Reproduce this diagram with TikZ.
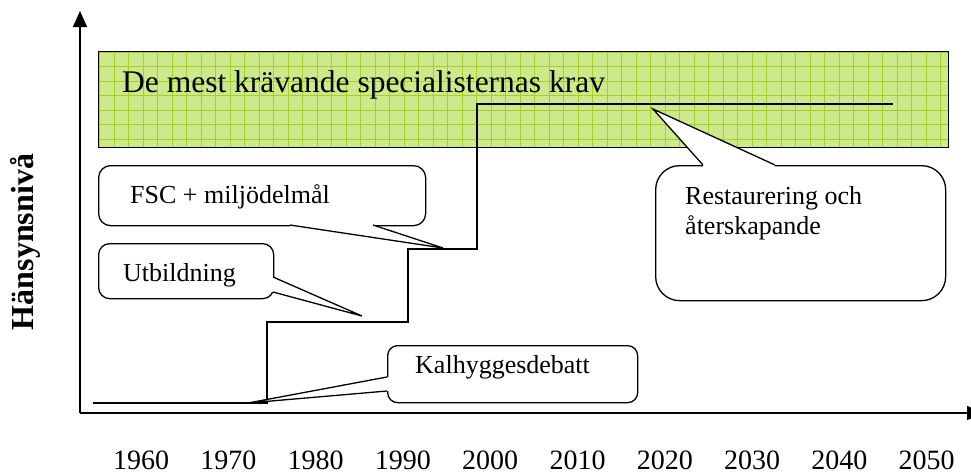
\documentclass[tikz,border=0pt]{standalone}
\usepackage{fontspec}
\setmainfont{Liberation Serif}
\usetikzlibrary{arrows.meta,calc}
\definecolor{gfill}{RGB}{206,232,140}
\definecolor{gline}{RGB}{164,208,40}
\newcommand{\calloutptr}[3]{%
  \fill[white] #1 -- #2 -- #3 -- cycle;
  \fill[white] ($#1!1.6pt!90:#3$) -- ($#3!1.6pt!-90:#1$) -- ($#3!1.6pt!90:#1$) -- ($#1!1.6pt!-90:#3$) -- cycle;
  \draw[callline] #1 -- #2 -- #3;
}
\begin{document}
\begin{tikzpicture}[x=1pt,y=-1pt,
  axisline/.style={line width=1.6pt,-{Triangle[length=16pt,width=14pt]}},
  stepline/.style={line width=1.4pt},
  callline/.style={line width=1.3pt,line join=miter},
  callbox/.style={draw,fill=white,line width=1.3pt,inner sep=0pt,anchor=north west},
  ctext/.style={inner sep=0pt,anchor=base west,font=\fontsize{26}{30}\selectfont},
  yeartext/.style={inner sep=0pt,anchor=base,font=\fontsize{28}{32}\selectfont}]
\useasboundingbox (0,0) rectangle (971,474);

% green band
\fill[gfill] (98,51) rectangle (948,147);
\begin{scope}
  \clip (98,51) rectangle (948,147);
  \foreach \i in {0,...,59} \draw[gline,line width=0.9pt] ({99.5+14.5*\i},51) -- ++(0,96);
  \foreach \j in {0,...,6} \draw[gline,line width=0.9pt] (98,{52+14.5*\j}) -- (948,{52+14.5*\j});
\end{scope}
\node[draw,line width=1.4pt,inner sep=0pt,anchor=north west,minimum width=850pt,minimum height=96pt] (band) at (98,51) {};
\node[inner sep=0pt,anchor=base west,font=\fontsize{31.5}{36}\selectfont] (head) at (122,92) {De mest krävande specialisternas krav};

% axes
\coordinate (O) at (80,413);
\coordinate (ytip) at (80,11);
\coordinate (xtip) at (983,413);
\draw[axisline] (O) -- (ytip);
\draw[axisline] (O) -- (xtip);

% step line
\draw[stepline] (93,403) -- (267,403) -- (267,322) -- (408,322) -- (408,249) -- (477,249) -- (477,104) -- (893,104);

% callouts
\node[callbox,rounded corners=12pt,minimum width=327pt,minimum height=60pt] (fscbox) at (98,165) {};
\calloutptr{(290,225)}{(443,248)}{(373,225)}
\node[ctext] (fsc) at (130,203) {FSC + miljödelmål};

\node[callbox,rounded corners=11pt,minimum width=175pt,minimum height=55pt] (utbbox) at (98,243) {};
\calloutptr{(273,277)}{(362,316)}{(273,292)}
\node[ctext] (utb) at (123,281) {Utbildning};

\node[callbox,rounded corners=10pt,minimum width=250pt,minimum height=57pt] (kalbox) at (387,345) {};
\calloutptr{(387,377)}{(248,403)}{(387,391)}
\node[ctext] (kal) at (415,373) {Kalhyggesdebatt};

\node[callbox,rounded corners=24pt,minimum width=290pt,minimum height=135pt] (restbox) at (655,165) {};
\calloutptr{(703,165)}{(653,109)}{(775,165)}
\node[ctext] (rest1) at (685,204) {Restaurering och};
\node[ctext] (rest2) at (685,234) {återskapande};

% years
\foreach \yr [count=\i from 0] in {1960,1970,1980,1990,2000,2010,2020,2030,2040,2050}
  \node[yeartext] (y\yr) at ({141+87.3*\i},469.5) {\yr};

% y label
\node[inner sep=0pt,anchor=base,rotate=90,font=\bfseries\fontsize{32}{36}\selectfont] (ylab) at (33,242) {Hänsynsnivå};
\end{tikzpicture}
\end{document}
